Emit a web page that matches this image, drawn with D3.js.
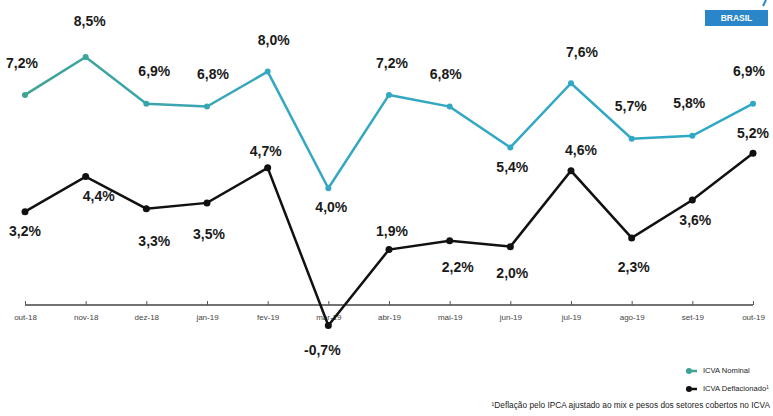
<!DOCTYPE html>
<html><head><meta charset="utf-8">
<script src="https://cdn.jsdelivr.net/npm/d3@7"></script>
<style>body{margin:0;background:#fff}svg{display:block}text{font-family:"Liberation Sans",Arial,sans-serif}</style>
</head><body>
<svg id="c" width="773" height="416"></svg>
<script>
const months = ["out-18","nov-18","dez-18","jan-19","fev-19","mar-19","abr-19","mai-19","jun-19","jul-19","ago-19","set-19","out-19"];
const nominal = [7.2,8.5,6.9,6.8,8.0,4.0,7.2,6.8,5.4,7.6,5.7,5.8,6.9];
const deflated = [3.2,4.4,3.3,3.5,4.7,-0.7,1.9,2.2,2.0,4.6,2.3,3.6,5.2];
const nominalLabelOffsets = [[-3,-31],[4,-35],[8,-31],[6,-31],[6,-30],[3,20],[3,-31],[-4,-31],[2,21],[11,-30],[-1,-31],[-3,-31],[-4,-31]];
const deflatedLabelOffsets = [[0,21],[13,21],[8,34],[2,32],[-2,-16],[-6,26],[3,-17],[8,27],[2,28],[10,-19],[2,30],[3,21],[0,-19]];
const seriesNames = ["ICVA Nominal","ICVA Deflacionado¹"];
const footnote = "¹Deflação pelo IPCA ajustado ao mix e pesos dos setores cobertos no ICVA";

const svg = d3.select("#c");
const x = d3.scalePoint().domain(months).range([25,753]);
const y = d3.scaleLinear().domain([0,8.5]).range([305,57]);
const fmt = v => d3.format(".1f")(v).replace(".",",").replace("−","-") + "%";

const defs = svg.append("defs");
const g = defs.append("linearGradient").attr("id","tg").attr("gradientUnits","userSpaceOnUse")
  .attr("x1",25).attr("x2",753).attr("y1",0).attr("y2",0);
g.append("stop").attr("offset","0%").attr("stop-color","#3fa393");
g.append("stop").attr("offset","35%").attr("stop-color","#35a8c2");
g.append("stop").attr("offset","100%").attr("stop-color","#2ea8c6");

// axis
const axisG = svg.append("g").attr("transform","translate(0,305)");
axisG.call(d3.axisBottom(x).tickSize(-4).tickPadding(9));
axisG.select(".domain").attr("d","M25,0H753").attr("stroke","#444").attr("stroke-width",1.5);
axisG.selectAll(".tick line").attr("stroke","#555");
axisG.selectAll(".tick text").attr("font-size",8).attr("fill","#444");

const line = d3.line().x((d,i)=>x(months[i])).y(d=>y(d));

// nominal
svg.append("path").datum(nominal).attr("d",line).attr("fill","none").attr("stroke","url(#tg)").attr("stroke-width",2.5);
svg.selectAll(".np").data(nominal).join("circle").attr("cx",(d,i)=>x(months[i])).attr("cy",d=>y(d)).attr("r",3).attr("fill","url(#tg)");
svg.append("path").datum(deflated).attr("d",line).attr("fill","none").attr("stroke","#111").attr("stroke-width",2.5);
svg.selectAll(".dp").data(deflated).join("circle").attr("cx",(d,i)=>x(months[i])).attr("cy",d=>y(d)).attr("r",3.5).attr("fill","#111");

function labels(data, offs){
  svg.append("g").selectAll("text").data(data).join("text")
    .attr("x",(d,i)=>x(months[i])+offs[i][0]).attr("y",(d,i)=>y(d)+offs[i][1])
    .attr("text-anchor","middle").attr("dominant-baseline","middle")
    .attr("font-size",14).attr("font-weight","bold").attr("fill","#1a1a1a")
    .text(fmt);
}
labels(nominal,nominalLabelOffsets);
labels(deflated,deflatedLabelOffsets);

// legend
const leg = svg.append("g");
const colors = ["#3fa393","#111"];
seriesNames.forEach((n,i)=>{
  const yy = 371 + i*18;
  leg.append("line").attr("x1",686).attr("x2",697).attr("y1",yy).attr("y2",yy).attr("stroke",colors[i]).attr("stroke-width",2.5);
  leg.append("circle").attr("cx",689).attr("cy",yy).attr("r",3).attr("fill",colors[i]);
  leg.append("text").attr("x",703).attr("y",yy).attr("dominant-baseline","middle").attr("font-size",7.6).attr("fill","#222").text(n);
});
svg.append("text").attr("x",770).attr("y",406).attr("text-anchor","end").attr("dominant-baseline","middle")
  .attr("font-size",8.3).attr("fill","#222").text(footnote);

// badge
svg.append("line").attr("x1",766).attr("y1",0).attr("x2",763).attr("y2",6).attr("stroke","#2a86c8").attr("stroke-width",2);
svg.append("rect").attr("x",705).attr("y",10).attr("width",63).attr("height",16).attr("fill","#2a86c8");
svg.append("text").attr("x",736.5).attr("y",18.5).attr("text-anchor","middle").attr("dominant-baseline","middle")
  .attr("font-size",8.5).attr("font-weight","bold").attr("fill","#fff").text("BRASIL");
</script>
</body></html>
